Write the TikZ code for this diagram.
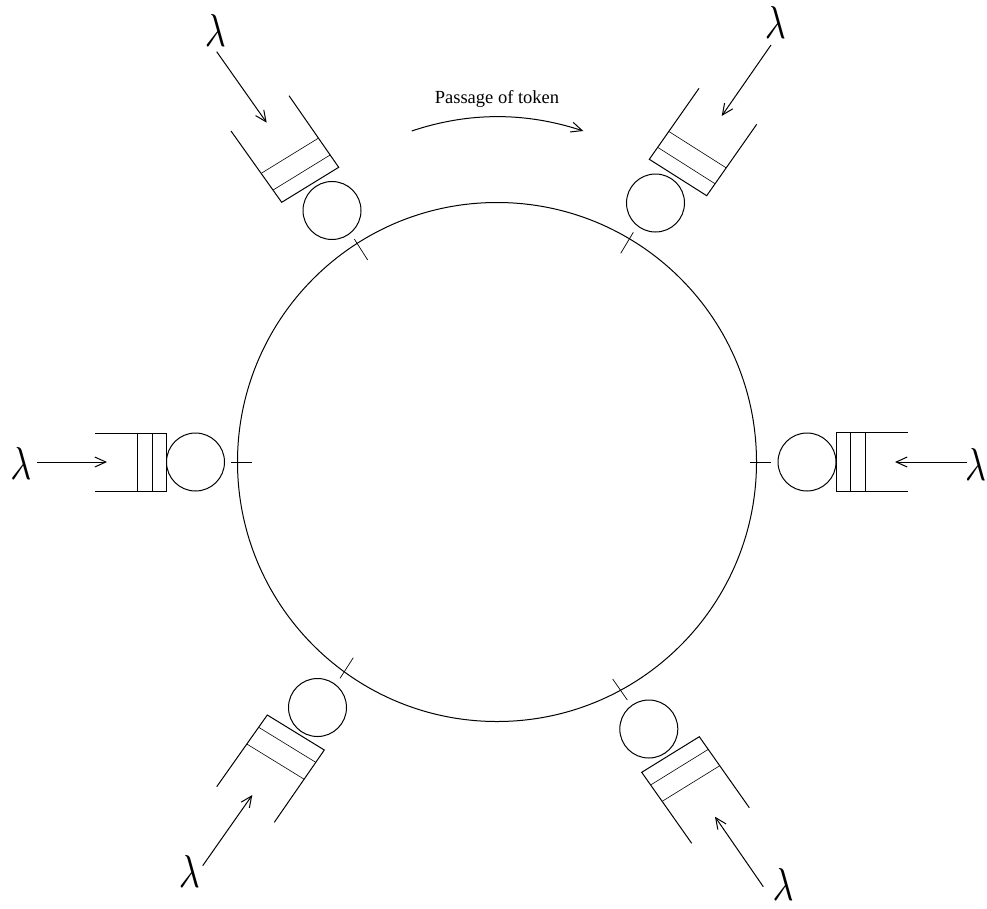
\documentclass[tikz,border=0pt]{standalone}
\usepackage{fontspec}
\usepackage{graphicx}
\setmainfont{Liberation Serif}
\usetikzlibrary{calc,arrows.meta}
\newcommand{\biglam}{\resizebox{21pt}{32pt}{$\lambda$}}
\begin{document}
\begin{tikzpicture}[x=1pt,y=-1pt,
  line width=1pt,
  server/.style={circle,draw,inner sep=0pt,minimum size=58pt},
  ring/.style={circle,draw,inner sep=0pt,minimum size=519pt},
  lam/.style={inner sep=0pt},
  arr/.style={-{Straight Barb[length=11pt,width=10pt]}},
  divider/.style={line width=0.6pt},
  tick/.style={line width=0.7pt}]
\useasboundingbox (0,0) rectangle (987,908);

% ring
\node[ring] (ring) at (497,462) {};

% servers
\node[server] (sL)  at (195.5,462) {};
\node[server] (sR)  at (807,462) {};
\node[server] (sTL) at (332,210.5) {};
\node[server] (sTR) at (655.5,203) {};
\node[server] (sBL) at (317.5,707.5) {};
\node[server] (sBR) at (648.8,729) {};

% lambda labels
\node[lam] (lL)  at (21,463) {\biglam};
\node[lam] (lR)  at (975.5,464) {\biglam};
\node[lam] (lTL) at (215.3,30.8) {\biglam};
\node[lam] (lTR) at (775.3,22.5) {\biglam};
\node[lam] (lBL) at (189.3,871) {\biglam};
\node[lam] (lBR) at (783,884) {\biglam};

% queues: closed corners A,B ; open ends Ao,Bo
\newcommand{\queue}[4]{%
  \draw (#1o) -- (#1) -- (#2) -- (#2o);
  \draw[divider] ($(#1)!#3pt!(#1o)$) -- ($(#2)!#3pt!(#2o)$);
  \draw[divider] ($(#1)!#4pt!(#1o)$) -- ($(#2)!#4pt!(#2o)$);
}
% left
\coordinate (LA) at (166.7,433); \coordinate (LAo) at (95,433);
\coordinate (LB) at (166.7,491); \coordinate (LBo) at (95,491);
\queue{LA}{LB}{14.7}{29.7}
% right
\coordinate (RA) at (836.7,432.7); \coordinate (RAo) at (907.7,432.7);
\coordinate (RB) at (836.7,491); \coordinate (RBo) at (907.7,491);
\queue{RA}{RB}{14}{28.3}
% top-left
\coordinate (TLA) at (281.7,202.3); \coordinate (TLAo) at (231,131);
\coordinate (TLB) at (338.7,167.3); \coordinate (TLBo) at (289,95.7);
\queue{TLA}{TLB}{15}{35.5}
% top-right
\coordinate (TRA) at (649.3,159.3); \coordinate (TRAo) at (699,88.3);
\coordinate (TRB) at (706.7,195.7); \coordinate (TRBo) at (756.7,124.3);
\queue{TRA}{TRB}{14.6}{34}
% bottom-left
\coordinate (BLA) at (267.3,715); \coordinate (BLAo) at (216.7,786.7);
\coordinate (BLB) at (324.3,750); \coordinate (BLBo) at (274.3,822.3);
\queue{BLA}{BLB}{15}{35.5}
% bottom-right
\coordinate (BRA) at (699.3,736.7); \coordinate (BRAo) at (749.3,807.7);
\coordinate (BRB) at (641.7,772.3); \coordinate (BRBo) at (691.7,843.3);
\queue{BRA}{BRB}{15.5}{35.5}

% arrival arrows
\coordinate (aL1) at (37,462);       \coordinate (aL2) at (107,462);
\coordinate (aR1) at (966.7,462);    \coordinate (aR2) at (895,462);
\coordinate (aTL1) at (216.7,51.7);  \coordinate (aTL2) at (266.7,122.7);
\coordinate (aTR1) at (771,45);      \coordinate (aTR2) at (721.7,116);
\coordinate (aBL1) at (202.7,865.7); \coordinate (aBL2) at (252.3,795);
\coordinate (aBR1) at (763.3,886.7); \coordinate (aBR2) at (715,816.7);
\foreach \s in {L,R,TL,TR,BL,BR}{\draw[arr] (a\s1) -- (a\s2);}

% ticks on the ring
\coordinate (tL1) at (231,462);      \coordinate (tL2) at (252,462);
\coordinate (tR1) at (750,462);      \coordinate (tR2) at (771,462);
\coordinate (tTL1) at (354.3,239);   \coordinate (tTL2) at (367.7,260);
\coordinate (tTR1) at (620.7,253.3); \coordinate (tTR2) at (633.3,232.3);
\coordinate (tBL1) at (340,678.3);   \coordinate (tBL2) at (353.3,657.7);
\coordinate (tBR1) at (612.7,679);   \coordinate (tBR2) at (627.3,700);
\foreach \s in {L,R,TL,TR,BL,BR}{\draw[tick] (t\s1) -- (t\s2);}

% passage of token
\node[anchor=base,inner sep=0pt,font=\fontsize{18.5}{18.5}\selectfont] (ptxt) at (497,103) {Passage of token};
\coordinate (p1) at (411.7,131); \coordinate (p2) at (583.3,131);
\coordinate (pc1) at (468.6,111.9); \coordinate (pc2) at (525.4,111.9);
\draw[arr] (p1) .. controls (pc1) and (pc2) .. (p2);
\end{tikzpicture}
\end{document}
